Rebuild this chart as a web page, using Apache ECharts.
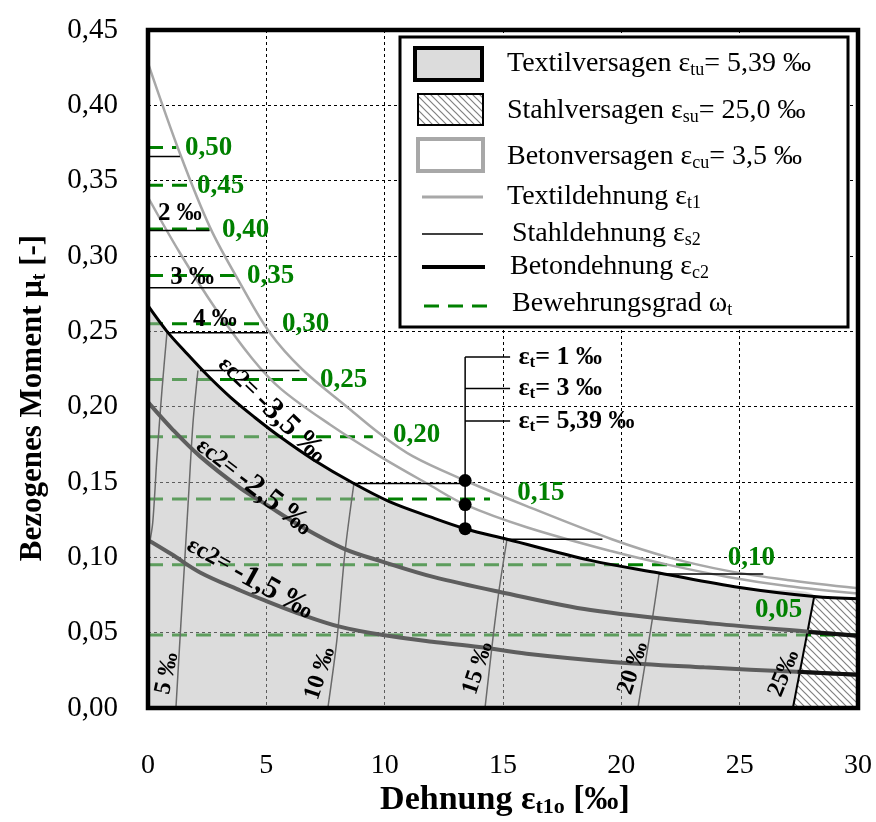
<!DOCTYPE html>
<html>
<head>
<meta charset="utf-8">
<script src="https://cdn.jsdelivr.net/npm/echarts/dist/echarts.min.js"></script>
<style>
  html, body { margin: 0; padding: 0; background: #fff; }
  #chart { width: 876px; height: 822px; }
</style>
</head>
<body>
<div id="chart"></div>
<script>
  // Bezogenes Moment ueber Dehnung (Textilbeton-Bemessungsdiagramm)
  const betonCurve35 = [[0, 0.267], [0.8, 0.25], [1.6, 0.236], [2.5, 0.221], [3.5, 0.206], [4.5, 0.193], [5.58, 0.18], [6.97, 0.165], [8.7, 0.149], [10.2, 0.137], [11.9, 0.127], [13.4, 0.119], [15.17, 0.112], [18.7, 0.098], [21.6, 0.0896], [25, 0.08], [28.15, 0.074], [30, 0.0725]];
  const betonCurve25 = [[0, 0.203], [1.06, 0.1845], [2.2, 0.167], [3.9, 0.146], [5.0, 0.135], [6.42, 0.121], [8.24, 0.106], [9.93, 0.097], [12.05, 0.087], [14.87, 0.077], [18.7, 0.065], [23.9, 0.056], [28.1, 0.0505], [30, 0.048]];
  const betonCurve15 = [[0, 0.1115], [1.0, 0.102], [2.2, 0.09], [3.9, 0.078], [5.0, 0.071], [6.5, 0.062], [8.1, 0.054], [9.93, 0.0484], [12, 0.044], [14, 0.0405], [16, 0.036], [19.6, 0.0306], [23.5, 0.027], [27.4, 0.024], [30, 0.022]];
  const textilCurve1 = [[0, 0.428], [1.35, 0.368], [2.62, 0.319], [3.89, 0.282], [5.15, 0.249], [6.5, 0.225], [8.4, 0.2], [9.8, 0.182], [11.2, 0.167], [13.4, 0.151], [16, 0.134], [19.6, 0.112], [22, 0.1], [24.5, 0.091], [27, 0.085], [30, 0.0795]];
  const textilCurve3 = [[0, 0.339], [1.35, 0.302], [2.9, 0.264], [4.4, 0.232], [5.6, 0.212], [7.7, 0.188], [9.8, 0.167], [11.9, 0.148], [13.4, 0.135], [16, 0.12], [19.6, 0.104], [22, 0.095], [24.5, 0.087], [27, 0.081], [30, 0.076]];

  // Linien gleicher Textildehnung
  const isoLine0 = [[0.8, 0.249], [0.59, 0.211], [0.38, 0.167], [0.2, 0.123], [0.05, 0.108]];
  const isoLine5 = [[2.11, 0.224], [1.9, 0.189], [1.73, 0.145], [1.56, 0.1], [1.39, 0.056], [1.18, 0]];
  const isoLine10 = [[8.7, 0.149], [8.32, 0.103], [7.98, 0.045], [7.6, 0]];
  const isoLine15 = [[15.17, 0.112], [14.85, 0.08], [14.58, 0.047], [14.24, 0]];
  const isoLine20 = [[21.6, 0.0896], [21.3, 0.058], [20.7, 0]];
  const isoLine25 = [[28.15, 0.074], [27.25, 0]];
  const strainLabelPos = [[0.8, 0.023], [7.27, 0.023], [13.94, 0.0265], [20.5, 0.0265], [26.87, 0.023]];
  const strainLabelTexts = ['5 ‰', '10 ‰', '15 ‰', '20 ‰', '25‰'];

  // Flaechen
  const textilRegion = betonCurve35.slice(0, 17).concat([[27.25, 0]]);
  const stahlRegion = [[27.25, 0], [28.15, 0.074], [30, 0.0725]];
  const stahlCurve25 = [[27.9, 0.0505], [30, 0.048]];
  const stahlCurve15 = [[27.45, 0.024], [30, 0.022]];

  // Bewehrungsgrad
  const omegaLevels = [0.372, 0.347, 0.318, 0.287, 0.255, 0.218, 0.180, 0.1387, 0.095, 0.0485];
  const omegaEnds = [1.2, 1.8, 2.6, 3.8, 5.0, 6.85, 9.5, 14.45, 23.3, 30];
  const omegaLabels = ['0,50', '0,45', '0,40', '0,35', '0,30', '0,25', '0,20', '0,15', '0,10', '0,05'];
  const omegaLabelPos = [[1.56, 0.3717], [2.07, 0.3465], [3.13, 0.317], [4.18, 0.287], [5.66, 0.255], [7.27, 0.218], [10.35, 0.181], [15.6, 0.143], [24.5, 0.0996], [25.65, 0.065]];

  // Stahldehnung
  const steelLevels = [0.366, 0.317, 0.279, 0.249, 0.224, 0.149, 0.112, 0.089];
  const steelStarts = [0, 0, 0, 0.85, 2.2, 8.7, 15.2, 21.6];
  const steelEnds = [1.35, 2.6, 3.9, 5.07, 6.4, 13.4, 19.2, 26.0];
  const steelLabels = ['2 ‰', '3 ‰', '4 ‰'];
  const steelLabelPos = [[1.35, 0.328], [1.86, 0.286], [2.83, 0.2575]];

  // Markierte Punkte
  const markerX = 13.4;
  const markerY = [0.151, 0.135, 0.119];
  const markerTexts = ['1 ‰', '3 ‰', '5,39 ‰'];
  const markerTextY = [0.233, 0.212, 0.1905];
  const markerTextX = 15.3;

  const curveLabelPos = [[5.24, 0.198], [4.48, 0.147], [4.31, 0.0863]];
  const curveLabelTexts = ['-3,5 ‰', '-2,5 ‰', '-1,5 ‰'];

  const serif = '"Liberation Serif", "Times New Roman", serif';
  const green = '#008000';

  function hatchCanvas() {
    const c = document.createElement('canvas');
    c.width = 7; c.height = 7;
    const g = c.getContext('2d');
    g.fillStyle = '#fff';
    g.fillRect(0, 0, 7, 7);
    g.strokeStyle = '#808080';
    g.lineWidth = 1.2;
    g.beginPath();
    g.moveTo(-1, -1); g.lineTo(8, 8);
    g.moveTo(-1, 6); g.lineTo(1, 8);
    g.moveTo(6, -1); g.lineTo(8, 1);
    g.stroke();
    return c;
  }
  const hatch = { image: hatchCanvas(), repeat: 'repeat' };

  function line(data, color, width, z, smooth, type) {
    return {
      type: 'line', data, symbol: 'none', z, silent: true, animation: false,
      smooth: smooth || false,
      lineStyle: { color, width, type: type || 'solid', opacity: 1 }
    };
  }

  function texts(pos, labels, label, z, rotations) {
    return {
      type: 'scatter', symbolSize: 0, z: z || 20, silent: true, animation: false,
      itemStyle: { opacity: 1 },
      data: pos.map((p, i) => {
        const item = { value: p, name: labels[i] };
        if (rotations) item.label = { rotate: rotations[i] };
        return item;
      }),
      label: Object.assign({ show: true, opacity: 1, formatter: p => p.name }, label)
    };
  }

  const subStyle = (size, bold) => ({
    fontSize: size, fontFamily: serif, fontWeight: bold ? 'bold' : 'normal', color: '#000',
    verticalAlign: 'bottom', lineHeight: Math.round(size * 0.55)
  });

  const series = [];

  omegaLevels.forEach((y, i) => {
    series.push(line([[0, y], [omegaEnds[i], y]], green, 3, 1, false, [15, 9]));
  });

  series.push({
    type: 'line', data: stahlRegion, symbol: 'none', z: 0, silent: true, animation: false,
    lineStyle: { width: 0 }, areaStyle: { color: hatch, opacity: 1 }
  });
  series.push({
    type: 'line', data: textilRegion, symbol: 'none', z: 2, silent: true, animation: false,
    smooth: 0.35,
    lineStyle: { width: 0 }, areaStyle: { color: '#b9b9b9', opacity: 0.5 }
  });

  [isoLine0, isoLine5, isoLine10, isoLine15, isoLine20].forEach(d => {
    series.push(line(d, '#6a6a6a', 1.5, 3, 0.3));
  });
  series.push(line(isoLine25, '#000', 2, 4));

  series.push(line(textilCurve1, '#a8a8a8', 2.5, 4, 0.35));
  series.push(line(textilCurve3, '#a8a8a8', 2.5, 4, 0.35));
  series.push(line(betonCurve25, '#5e5e5e', 4, 5, 0.35));
  series.push(line(betonCurve15, '#5e5e5e', 4, 5, 0.35));
  series.push(line(stahlCurve25, '#111', 4, 6));
  series.push(line(stahlCurve15, '#111', 4, 6));
  series.push(line(betonCurve35, '#000', 3, 6, 0.35));

  steelLevels.forEach((y, i) => {
    series.push(line([[steelStarts[i], y], [steelEnds[i], y]], '#000', 1.5, 6));
  });

  series.push(line([[markerX, markerY[2]], [markerX, markerTextY[0]]], '#000', 1.5, 7));
  markerTextY.forEach(y => {
    series.push(line([[markerX, y], [markerTextX, y]], '#000', 1.5, 7));
  });
  series.push({
    type: 'scatter', symbolSize: 13, z: 8, silent: true, animation: false,
    itemStyle: { color: '#000', opacity: 1 },
    data: markerY.map(y => [markerX, y])
  });

  series.push(texts(omegaLabelPos, omegaLabels, {
    position: 'right', distance: 0, color: green, fontSize: 27, fontWeight: 'bold', fontFamily: serif
  }));
  series.push(texts(steelLabelPos, steelLabels, {
    position: 'inside', color: '#000', fontSize: 25, fontWeight: 'bold', fontFamily: serif
  }));
  series.push(texts(markerTextY.map(y => [markerTextX + 0.35, y]),
    markerTexts.map(t => '{e|ε}{s|t}{e|= ' + t + '}'), {
    position: 'right', distance: 0,
    rich: { e: { fontSize: 26, fontWeight: 'bold', fontFamily: serif, color: '#000', lineHeight: 28 }, s: subStyle(17, true) }
  }));
  series.push(texts(curveLabelPos, curveLabelTexts.map(t => '{a|εc2= }{b|' + t + '}'), {
    position: 'inside',
    rich: {
      a: { fontSize: 24, fontWeight: 'bold', fontFamily: serif, color: '#000' },
      b: { fontSize: 31, fontWeight: 'bold', fontFamily: serif, color: '#000' }
    }
  }, 20, [-44, -38, -29]));
  series.push(texts(strainLabelPos, strainLabelTexts, {
    position: 'inside', color: '#000', fontSize: 24, fontWeight: 'bold', fontFamily: serif
  }, 20, [78, 72, 72, 72, 68]));

  // Legende
  const legendRows = [
    { y: 64, x: 507, text: '{n|Textilversagen ε}{s|tu}{n|= 5,39 ‰}' },
    { y: 111, x: 507, text: '{n|Stahlversagen ε}{s|su}{n|= 25,0 ‰}' },
    { y: 157, x: 507, text: '{n|Betonversagen ε}{s|cu}{n|= 3,5 ‰}' },
    { y: 197, x: 507, text: '{n|Textildehnung ε}{s|t1}' },
    { y: 234, x: 512, text: '{n|Stahldehnung ε}{s|s2}' },
    { y: 267, x: 510, text: '{n|Betondehnung ε}{s|c2}' },
    { y: 304, x: 512, text: '{n|Bewehrungsgrad ω}{s|t}' }
  ];
  const legendRich = {
    n: { fontSize: 28, fontFamily: serif, fill: '#000', lineHeight: 30 },
    s: { fontSize: 18, fontFamily: serif, fill: '#000', verticalAlign: 'bottom', lineHeight: 10 }
  };
  const titleRich = (size) => ({
    n: { fontSize: size, fontWeight: 'bold', fontFamily: serif, fill: '#000', lineHeight: size + 2 },
    s: { fontSize: Math.round(size * 0.64), fontWeight: 'bold', fontFamily: serif, fill: '#000', verticalAlign: 'bottom', lineHeight: 10 }
  });

  const graphic = [
    { type: 'rect', z: 100, shape: { x: 400, y: 37, width: 448, height: 290 }, style: { fill: '#fff', stroke: '#000', lineWidth: 3 } },
    { type: 'rect', z: 101, shape: { x: 415, y: 48, width: 67, height: 32 }, style: { fill: '#dcdcdc', stroke: '#000', lineWidth: 4 } },
    { type: 'rect', z: 101, shape: { x: 418, y: 94, width: 65, height: 31 }, style: { fill: hatch, stroke: '#000', lineWidth: 2 } },
    { type: 'rect', z: 101, shape: { x: 418, y: 139, width: 65, height: 32 }, style: { fill: '#fff', stroke: '#a8a8a8', lineWidth: 4 } },
    { type: 'line', z: 101, shape: { x1: 422, y1: 197, x2: 483, y2: 197 }, style: { stroke: '#a8a8a8', lineWidth: 3 } },
    { type: 'line', z: 101, shape: { x1: 422, y1: 234, x2: 483, y2: 234 }, style: { stroke: '#000', lineWidth: 1.5 } },
    { type: 'line', z: 101, shape: { x1: 422, y1: 267, x2: 485, y2: 267 }, style: { stroke: '#000', lineWidth: 4 } },
    { type: 'line', z: 101, shape: { x1: 424, y1: 306, x2: 490, y2: 306 }, style: { stroke: green, lineWidth: 3, lineDash: [15, 9] } },
    // Rahmen des Diagramms
    { type: 'rect', z: 99, shape: { x: 148, y: 30, width: 710, height: 678 }, style: { fill: 'none', stroke: '#000', lineWidth: 4.5 } },
    {
      type: 'text', z: 101, x: 33, y: 398, rotation: Math.PI / 2,
      style: {
        text: '{n|Bezogenes Moment μ}{s|t}{n| [-]}', align: 'center', verticalAlign: 'middle',
        textAlign: 'center', textVerticalAlign: 'middle', rich: titleRich(31)
      }
    },
    {
      type: 'text', z: 101, x: 505, y: 800,
      style: {
        text: '{n|Dehnung ε}{s|t1o}{n| [‰]}', align: 'center', verticalAlign: 'middle',
        textAlign: 'center', textVerticalAlign: 'middle', rich: titleRich(34)
      }
    }
  ];
  legendRows.forEach(r => {
    graphic.push({
      type: 'text', z: 102, x: r.x, y: r.y,
      style: { text: r.text, rich: legendRich, align: 'left', verticalAlign: 'middle', textAlign: 'left', textVerticalAlign: 'middle' }
    });
  });

  const chart = echarts.init(document.getElementById('chart'));
  chart.setOption({
    animation: false,
    backgroundColor: '#fff',
    grid: { left: 148, right: 18, top: 30, bottom: 114, show: false },
    xAxis: {
      type: 'value', min: 0, max: 30, interval: 5,
      axisLine: { show: false }, axisTick: { show: false },
      axisLabel: { color: '#000', fontFamily: serif, fontSize: 28, margin: 44, showMinLabel: true, showMaxLabel: true, hideOverlap: false },
      splitLine: { show: true, lineStyle: { color: '#000', width: 1, type: [3, 3] } }
    },
    yAxis: {
      type: 'value', min: 0, max: 0.45, interval: 0.05,
      axisLine: { show: false }, axisTick: { show: false },
      axisLabel: {
        color: '#000', fontFamily: serif, fontSize: 29, margin: 30, showMinLabel: true, showMaxLabel: true, hideOverlap: false,
        formatter: v => v.toFixed(2).replace('.', ',')
      },
      splitLine: { show: true, lineStyle: { color: '#000', width: 1, type: [3, 3] } }
    },
    graphic,
    series
  });
</script>
</body>
</html>
